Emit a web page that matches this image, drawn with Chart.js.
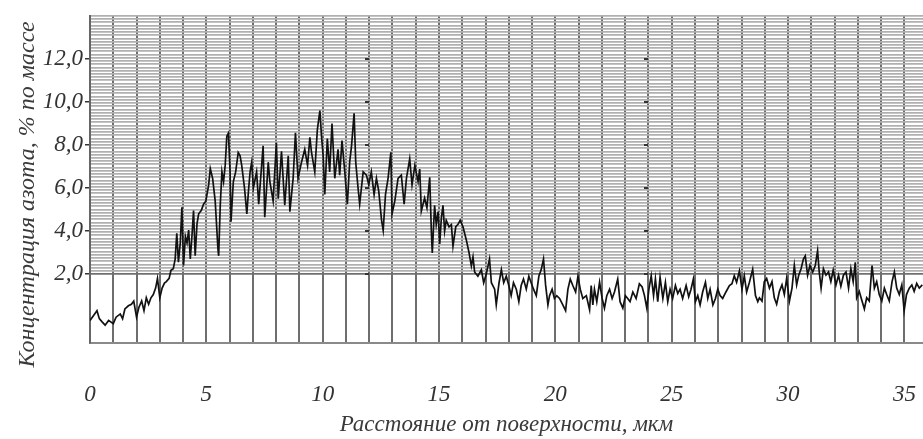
<!DOCTYPE html>
<html>
<head>
<meta charset="utf-8">
<script src="https://cdn.jsdelivr.net/npm/chart.js@4.4.0/dist/chart.umd.min.js"></script>
<style>
  html, body { margin: 0; padding: 0; background: #fff; }
</style>
</head>
<body>
<canvas id="profile" width="923" height="439"></canvas>
<script>
// Расстояние от поверхности, мкм
const distanceUm = [
  0.00,0.10,0.20,0.30,0.40,0.52,0.65,0.80,1.00,1.12,
  1.30,1.40,1.50,1.65,1.78,1.88,2.00,2.10,2.22,2.32,
  2.42,2.52,2.62,2.72,2.82,2.90,3.00,3.10,3.20,3.28,
  3.40,3.48,3.58,3.66,3.73,3.80,3.88,3.95,4.02,4.10,
  4.17,4.24,4.31,4.38,4.45,4.52,4.60,4.67,4.78,4.88,
  4.98,5.10,5.17,5.27,5.38,5.50,5.53,5.60,5.67,5.74,
  5.81,5.88,5.95,6.02,6.06,6.16,6.26,6.37,6.45,6.52,
  6.64,6.74,6.81,6.88,6.95,7.02,
  7.16,7.25,7.44,7.51,7.66,7.73,7.87,8.01,8.09,8.23,
  8.37,8.52,8.59,8.73,8.83,8.94,9.09,9.23,9.35,9.45,
  9.52,9.66,9.77,9.88,9.95,10.02,10.09,10.20,10.30,10.40,
  10.52,10.66,10.73,10.83,10.95,11.06,11.16,11.24,11.35,11.42,
  11.52,11.59,11.74,11.88,11.98,12.09,12.21,12.31,12.41,12.53,
  12.60,12.70,12.81,12.93,12.98,13.10,13.24,13.38,13.50,13.60,
  13.74,13.84,13.96,14.10,
  14.17,14.24,14.38,14.48,14.60,14.67,14.71,14.81,14.88,14.96,
  15.03,15.10,15.17,15.24,15.31,15.43,15.53,15.60,15.72,15.81,
  15.91,16.03,16.17,16.29,16.39,16.46,16.53,16.67,16.82,16.92,
  17.03,17.17,17.25,17.39,17.46,17.58,17.68,17.78,17.89,18.00,
  18.10,18.20,18.32,18.43,18.53,18.63,18.75,18.86,18.96,19.06,
  19.18,19.29,19.39,19.49,19.58,19.68,19.75,19.86,19.96,20.06,
  20.18,20.32,20.44,20.54,20.64,20.75,20.87,20.97,21.07,21.18,
  21.33,21.47,
  21.54,21.61,21.68,21.78,21.90,22.01,22.11,22.21,22.33,22.44,
  22.54,22.68,22.78,22.90,23.01,23.11,23.21,23.33,23.47,23.61,
  23.73,23.83,23.93,24.02,24.12,24.22,24.30,24.40,24.50,24.62,
  24.73,24.83,24.93,25.04,25.16,25.26,25.36,25.47,25.62,25.73,
  25.83,25.93,26.02,26.12,26.22,26.33,26.45,26.55,26.65,26.77,
  26.88,26.98,27.08,27.19,27.33,27.48,27.59,27.69,27.79,27.91,
  28.02,28.12,28.22,28.34,28.48,28.60,28.70,
  28.77,28.88,28.98,29.08,29.20,29.31,29.41,29.51,29.63,29.74,
  29.84,29.94,30.06,30.17,30.27,30.37,30.46,30.56,30.66,30.74,
  30.84,30.94,31.06,31.17,31.27,31.34,31.42,31.52,31.63,31.74,
  31.84,31.94,32.06,32.17,32.27,32.38,32.49,32.60,32.70,32.80,
  32.89,32.95,33.06,33.18,33.28,33.38,33.49,33.61,33.71,33.81,
  33.92,34.03,34.14,34.24,34.35,34.47,34.57,34.67,34.78,34.89,
  34.99,35.09,35.21,35.32,35.42,35.53,35.64,35.77
];

// Концентрация азота, % по массе
const nitrogenPct = [
  -0.15,0.00,0.15,0.30,-0.07,-0.22,-0.37,-0.15,-0.30,0.00,
  0.15,-0.07,0.38,0.53,0.60,0.75,0.00,0.45,0.75,0.30,
  0.90,0.60,0.90,1.05,1.35,1.80,0.90,1.35,1.58,1.65,
  1.80,2.18,2.25,2.70,3.90,2.55,3.45,5.10,2.40,3.75,
  3.45,4.05,2.70,3.75,4.95,2.85,4.35,4.80,4.95,5.25,
  5.40,6.15,6.90,6.45,5.40,3.15,2.85,5.25,6.75,6.30,
  7.05,8.40,8.55,6.75,4.43,6.30,6.75,7.65,7.50,7.05,
  6.00,4.80,5.85,6.75,7.20,6.00,
  6.75,5.25,7.96,4.64,7.20,6.30,5.40,8.10,5.50,7.70,
  5.20,7.50,4.90,6.45,8.57,6.45,7.20,7.80,7.05,8.35,
  7.65,6.75,8.70,9.60,8.40,7.50,5.70,8.30,6.75,9.00,
  6.45,7.80,6.60,8.20,6.75,5.25,7.20,7.96,9.47,7.20,
  6.00,5.25,6.75,6.60,6.15,6.75,5.70,6.45,5.85,4.50,
  4.04,5.70,6.45,7.66,4.80,5.40,6.45,6.60,5.25,6.45,
  7.35,6.15,7.05,6.30,
  6.88,4.93,5.53,5.08,6.50,4.00,2.98,5.20,4.30,4.90,
  3.40,4.60,5.20,4.00,4.50,4.20,4.30,3.30,4.20,4.30,
  4.50,4.20,3.60,3.00,2.38,2.80,2.10,1.90,2.20,1.60,
  2.00,2.70,1.60,1.30,0.57,1.60,2.20,1.60,1.90,1.47,
  1.00,1.60,1.30,0.72,1.47,1.77,1.30,1.90,1.60,1.30,
  1.00,1.90,2.20,2.70,1.50,0.57,1.00,1.30,0.87,1.00,
  0.87,0.57,0.30,1.30,1.77,1.47,1.17,1.90,1.30,0.87,
  1.00,0.35,
  1.47,0.57,1.30,0.72,1.62,0.87,0.42,1.00,1.30,0.87,
  1.17,1.77,0.72,0.42,1.00,0.87,0.72,1.17,0.87,1.55,
  1.40,1.00,0.42,1.30,1.92,1.00,1.77,0.72,1.85,0.87,
  1.62,0.72,1.30,0.87,1.47,1.10,1.30,0.87,1.47,0.95,
  1.30,1.77,0.72,1.00,0.57,1.17,1.62,0.87,1.30,0.57,
  0.87,1.30,1.00,0.87,1.17,1.47,1.55,1.92,1.62,2.15,
  1.30,1.92,1.17,1.62,2.22,1.00,0.72,
  0.90,0.75,1.65,1.80,1.35,1.65,0.90,0.60,1.20,1.50,
  1.05,1.80,0.75,1.35,2.40,1.50,1.95,2.25,2.70,2.85,
  1.95,2.40,2.10,2.40,3.08,2.10,1.35,2.25,1.95,2.10,
  1.65,2.18,1.50,1.95,1.43,1.95,2.10,1.35,2.25,1.65,
  2.55,0.90,1.20,0.75,0.38,0.90,0.75,2.40,1.35,1.65,
  1.05,0.75,1.35,1.05,0.75,1.65,2.10,1.35,1.05,1.50,
  0.30,1.05,1.35,1.50,1.20,1.57,1.35,1.50
];

// Подписи и сетка осей
const xGridValues = [0,1,2,3,4,5,6,7,8,9,10,11,12,13,14,15,16,17,18,19,20,21,22,23,24,25,26,27,28,29,30,31,32,33,34,35];
const xLabelValues = [0, 5, 10, 15, 20, 25, 30, 35];
const yTickValues = [2, 4, 6, 8, 10, 12];
const innerAxisValues = [12, 24];

const xTitle = 'Расстояние от поверхности, мкм';
const yTitle = 'Концентрация азота, % по массе\u00A0\u00A0\u00A0\u00A0\u00A0';

const yMin = -1.2, yMax = 14;
const xMin = 0, xMax = 35.8;
const hatchFrom = 2;      // штриховка фона начинается от 2,0
const hatchStep = 0.15;

const serif = '"Liberation Serif", "DejaVu Serif", serif';
const labelFont = { family: serif, style: 'italic', size: 23 };
const xLabelFont = { family: serif, style: 'italic', size: 23, lineHeight: 1.5 };
const xTitleFont = { family: serif, style: 'italic', size: 23 };
const yTitleFont = { family: serif, style: 'italic', size: 24 };

const points = distanceUm.map((x, i) => ({ x: x, y: nitrogenPct[i] }));

const toTicks = values => values.map(v => ({ value: v }));

// Вспомогательные оси на 12 и 24 мкм (только засечки)
const innerAxes = {};
innerAxisValues.forEach(v => {
  innerAxes['yIn' + v] = {
    type: 'linear',
    position: { x: v },
    min: yMin,
    max: yMax,
    afterBuildTicks: s => { s.ticks = toTicks(yTickValues); },
    afterFit: s => { s.width = 0; },
    grid: { drawOnChartArea: false, drawTicks: true, tickLength: 4, color: '#333', lineWidth: 2 },
    border: { display: false },
    ticks: { display: false }
  };
});

new Chart(document.getElementById('profile'), {
  type: 'line',
  data: {
    datasets: [{
      data: points,
      borderColor: '#111',
      borderWidth: 1.7,
      pointRadius: 0,
      tension: 0,
      fill: false
    }]
  },
  options: {
    responsive: false,
    animation: false,
    devicePixelRatio: 1,
    layout: { padding: { top: 6, right: 0, bottom: 0, left: 0 } },
    plugins: {
      legend: { display: false },
      tooltip: { enabled: false }
    },
    scales: {
      x: {
        type: 'linear',
        min: xMin,
        max: xMax,
        afterBuildTicks: s => { s.ticks = toTicks(xGridValues); },
        afterFit: s => { s.height = 96; },
        grid: { color: '#6e6e6e', lineWidth: 2, drawTicks: false },
        border: { color: '#8a8a8a', width: 2 },
        ticks: {
          autoSkip: false,
          maxRotation: 0,
          padding: 0,
          color: '#333',
          font: xLabelFont,
          // пустая первая строка опускает подпись ниже оси
          callback: v => xLabelValues.includes(v) ? ['', String(v)] : ''
        },
        title: {
          display: true,
          text: xTitle,
          color: '#3a3a3a',
          font: xTitleFont,
          padding: { top: 0, bottom: 0 }
        }
      },
      y: {
        type: 'linear',
        position: 'left',
        min: yMin,
        max: yMax,
        afterBuildTicks: s => { s.ticks = toTicks(yTickValues); },
        afterFit: s => { s.width = 90; },
        grid: { drawOnChartArea: false, drawTicks: true, tickLength: 5, color: '#333', lineWidth: 1.5 },
        border: { color: '#666', width: 2 },
        ticks: {
          padding: 2,
          color: '#333',
          font: labelFont,
          callback: v => v.toFixed(1).replace('.', ',')
        },
        title: {
          display: true,
          text: yTitle,
          color: '#3a3a3a',
          font: yTitleFont,
          padding: { top: 13, bottom: 0 }
        }
      },
      yHatch: {
        type: 'linear',
        position: 'left',
        min: yMin,
        max: yMax,
        afterBuildTicks: s => {
          const t = [];
          for (let v = hatchFrom; v <= yMax + 1e-9; v += hatchStep) t.push({ value: +v.toFixed(3) });
          s.ticks = t;
        },
        afterFit: s => { s.width = 0; },
        grid: {
          drawTicks: false,
          lineWidth: 1.8,
          color: ctx => Math.abs(ctx.tick.value - hatchFrom) < 1e-6 ? '#707070' : '#b0b0b0'
        },
        border: { display: false },
        ticks: { display: false }
      },
      ...innerAxes
    }
  }
});
</script>
</body>
</html>
